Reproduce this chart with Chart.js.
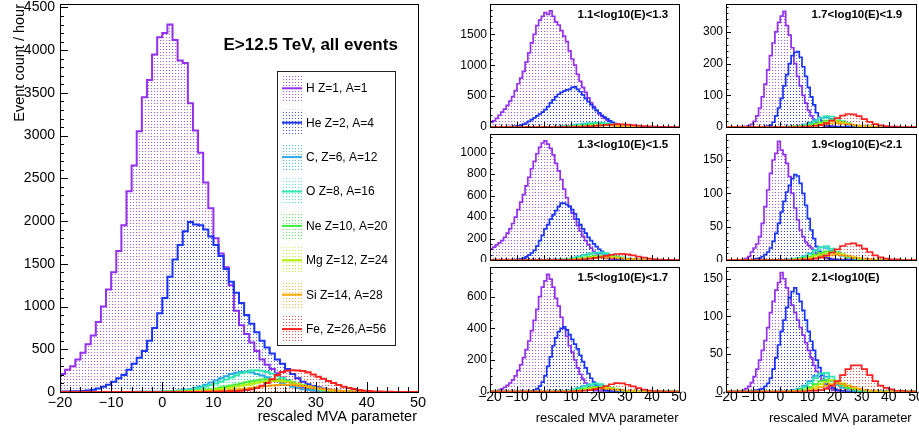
<!DOCTYPE html>
<html>
<head>
<meta charset="utf-8">
<script src="https://cdn.jsdelivr.net/npm/chart.js@4.4.1/dist/chart.umd.min.js"></script>
<style>
  body { margin: 0; background: #fff; }
  #page { position: relative; width: 919px; height: 432px; overflow: hidden; }
  #page canvas { position: absolute; }
</style>
</head>
<body>
<div id="page">
  <canvas id="cMain" width="450" height="432" style="left:0;top:0"></canvas>
  <canvas id="c1" width="240" height="131" style="left:450px;top:0"></canvas>
  <canvas id="c2" width="229" height="131" style="left:690px;top:0"></canvas>
  <canvas id="c3" width="240" height="131" style="left:450px;top:131px"></canvas>
  <canvas id="c4" width="229" height="131" style="left:690px;top:131px"></canvas>
  <canvas id="c5" width="240" height="170" style="left:450px;top:262px"></canvas>
  <canvas id="c6" width="229" height="170" style="left:690px;top:262px"></canvas>
</div>
<script>
// species in drawing order (first = bottom)
const speciesNames = ['H Z=1, A=1', 'He Z=2, A=4', 'C, Z=6, A=12', 'O Z=8, A=16',
  'Ne Z=10, A=20', 'Mg Z=12, Z=24', 'Si Z=14, A=28', 'Fe, Z=26,A=56'];
const speciesColors = ['#9430f0', '#1a35f5', '#2aa8e8', '#2ee8b0', '#3aee3a', '#b0ee00', '#ffaa00', '#ff2020'];

// binning: fine = 1 unit from -20, coarse = 2 units from -20
const FINE_START = -20, FINE_WIDTH = 1;
const COARSE_START = -20, COARSE_WIDTH = 2;

// tick labels
const xTicks = [-20, -10, 0, 10, 20, 30, 40, 50];
const allTicks = [0, 500, 1000, 1500, 2000, 2500, 3000, 3500, 4000, 4500];
const b1Ticks = [0, 500, 1000, 1500];
const b2Ticks = [0, 200, 400, 600, 800, 1000];
const b3Ticks = [0, 200, 400, 600];
const b4Ticks = [0, 100, 200, 300];
const b5Ticks = [0, 50, 100, 150];
const b6Ticks = [0, 50, 100, 150];

// ---- E>12.5 TeV, all events (fine bins, -20..50)
const allH = [210,260,300,380,460,560,660,820,1000,1200, 1400,1650,1950,2350,2650,3050,3450,3650,3950,4150,
  4200,4300,4120,3880,3850,3380,3060,2800,2450,2150, 1800,1620,1460,1250,950,780,680,580,480,380,
  320,270,220,170,130,100,75,55,40,30, 22,15,10,7,5,3,2,1,1,1, 0,0,0,0,0,0,0,0,0,0];
const allHe = [5,5,8,10,12,18,25,40,60,85, 120,160,200,260,330,400,480,600,750,920,
  1100,1350,1550,1720,1880,1990,1960,1950,1900,1820, 1720,1590,1440,1290,1160,1040,900,800,700,600,
  520,450,380,330,270,210,160,120,90,70, 55,40,30,22,16,12,9,6,4,3, 2,1,1,1,0,0,0,0,0,0];
const allC = [0,0,0,0,0,0,0,0,0,0, 0,1,1,1,2,2,3,3,4,4,
  5,8,12,18,25,35,50,65,85,110, 135,160,185,210,225,235,237,228,212,192,
  172,150,127,103,82,62,46,33,23,16, 11,8,5,3,2,1,1,0,0,0, 0,0,0,0,0,0,0,0,0,0];
const allO = [0,0,0,0,0,0,0,0,0,0, 0,0,1,1,1,2,2,3,3,4,
  5,7,10,14,20,28,38,50,65,82, 100,122,145,170,195,220,240,252,255,250,
  235,215,190,165,140,115,92,72,55,40, 28,19,13,8,5,3,2,1,1,0, 0,0,0,0,0,0,0,0,0,0];
const allNe = [0,0,0,0,0,0,0,0,0,0, 0,0,0,0,0,0,0,1,1,1,
  2,3,4,6,8,11,15,20,26,33, 42,52,63,75,88,100,113,125,136,145,
  150,150,145,136,124,110,95,80,65,51, 39,29,21,15,10,7,4,3,2,1, 1,0,0,0,0,0,0,0,0,0];
const allMg = [0,0,0,0,0,0,0,0,0,0, 0,0,0,0,0,0,0,0,0,0,
  1,2,3,4,6,8,11,14,18,23, 29,36,44,53,63,74,86,97,108,118,
  126,130,130,126,118,107,94,80,66,53, 41,31,23,16,11,7,5,3,2,1, 1,0,0,0,0,0,0,0,0,0];
const allSi = [0,0,0,0,0,0,0,0,0,0, 0,0,0,0,0,0,0,0,0,0,
  0,1,1,2,2,3,4,5,7,9, 12,15,19,24,29,35,42,49,56,63,
  70,76,81,84,84,81,76,69,60,51, 42,34,26,20,15,11,7,5,3,2, 1,1,0,0,0,0,0,0,0,0];
const allFe = [0,0,0,0,0,0,0,0,0,0, 0,0,0,0,0,0,0,0,0,0,
  0,0,0,0,0,1,1,1,2,3, 4,5,7,9,12,16,22,32,48,72,
  105,150,200,235,250,255,253,245,230,205, 178,155,130,105,82,62,46,35,24,16, 11,7,5,3,2,1,1,0,0,0];

// ---- 1.1<log10(E)<1.3
const b1H = [80,100,140,190,240,290,350,420,490,590, 700,790,900,1050,1200,1360,1500,1640,1730,1790,
  1850,1820,1880,1790,1700,1650,1560,1470,1380,1230, 1100,1000,850,740,640,560,470,390,330,270,
  210,170,140,110,85,65,50,40,32,25, 20,15,12,9,7,5,4,3,2,2, 1,1,1,1,0,0,0,0,0,0];
const b1He = [0,0,0,1,1,2,3,5,8,13, 20,30,45,65,90,120,150,180,210,240,
  280,330,390,440,490,530,560,580,600,610, 640,650,610,570,520,460,410,360,310,270,
  230,190,160,130,100,75,55,40,28,18, 10,6,4,2,1,1,0,0,0,0, 0,0,0,0,0,0,0,0,0,0];
const b1C  = [0,0,0,0,0,0,0,0, 0,1,2,4,8,13,20,30,42,53,60,59,52,41,30,20,13,8,4,2,1,0,0,0,0, 0,0];
const b1O  = [0,0,0,0,0,0,0,0, 0,0,1,3,6,10,16,24,35,48,60,68,70,63,51,38,26,16,9,5,2,1,0,0,0, 0,0];
const b1Ne = [0,0,0,0,0,0,0,0, 0,0,0,1,2,4,7,11,17,24,31,37,40,38,32,24,17,11,6,3,2,1,0,0,0, 0,0];
const b1Mg = [0,0,0,0,0,0,0,0, 0,0,0,1,1,3,5,8,13,18,24,30,34,35,31,25,18,12,7,4,2,1,0,0,0, 0,0];
const b1Si = [0,0,0,0,0,0,0,0, 0,0,0,0,1,2,3,5,8,12,16,20,23,25,23,19,14,9,6,3,2,1,0,0,0, 0,0];
const b1Fe = [0,0,0,0,0,0,0,0, 0,0,0,0,0,1,1,2,4,7,11,17,25,33,40,45,44,39,31,23,15,9,5,3,1, 1,0];

// ---- 1.3<log10(E)<1.5
const b2H = [105,120,140,160,180,210,250,290,340,400, 470,540,610,690,770,850,920,990,1050,1090,
  1110,1080,1040,980,900,830,750,660,580,500, 440,380,320,270,220,180,140,110,80,60,
  40,28,20,14,10,7,5,3,2,1, 1,0,0,0,0,0,0,0,0,0, 0,0,0,0,0,0,0,0,0,0];
const b2He = [0,0,0,0,0,0,0,1,2,4, 6,10,18,30,45,65,90,130,180,230,
  290,330,380,420,460,500,530,530,515,500, 470,430,380,330,290,250,210,180,150,125,
  100,80,60,45,33,23,15,10,7,5, 3,2,1,1,0,0,0,0,0,0, 0,0,0,0,0,0,0,0,0,0];
const b2C  = [0,0,0,0,0,0,0,0, 0,0,1,2,4,8,14,23,35,48,60,66,62,52,40,28,18,11,6,3,2,1,0,0,0, 0,0];
const b2O  = [0,0,0,0,0,0,0,0, 0,0,1,2,3,6,11,19,30,44,58,70,72,64,50,36,24,15,8,4,2,1,0,0,0, 0,0];
const b2Ne = [0,0,0,0,0,0,0,0, 0,0,0,1,2,3,6,10,16,23,31,38,41,39,33,25,17,11,6,3,2,1,0,0,0, 0,0];
const b2Mg = [0,0,0,0,0,0,0,0, 0,0,0,0,1,2,4,7,11,17,24,30,34,34,30,24,17,11,7,4,2,1,0,0,0, 0,0];
const b2Si = [0,0,0,0,0,0,0,0, 0,0,0,0,1,1,2,4,7,11,15,19,22,23,21,17,13,9,6,3,2,1,0,0,0, 0,0];
const b2Fe = [0,0,0,0,0,0,0,0, 0,0,0,0,0,1,1,2,4,7,12,19,28,39,49,56,57,52,43,32,22,14,8,4,2, 1,0];

// ---- 1.5<log10(E)<1.7
const b3H = [0,2,5,10,18,28,40,55,75,100, 135,170,215,265,320,385,450,520,600,660,
  700,740,710,660,590,540,470,400,350,290, 250,200,150,110,80,55,35,20,12,7,
  4,2,1,1,0,0,0,0,0,0, 0,0,0,0,0,0,0,0,0,0, 0,0,0,0,0,0,0,0,0,0];
const b3He = [0,0,0,0,0,0,0,0,0,0, 0,0,0,1,2,5,10,20,35,60,
  100,160,220,290,340,380,400,410,390,360, 330,300,270,230,190,150,115,85,60,40,
  25,15,9,5,3,2,1,0,0,0, 0,0,0,0,0,0,0,0,0,0, 0,0,0,0,0,0,0,0,0,0];
const b3C  = [0,0,0,0,0,0,0,0, 0,0,0,1,2,4,8,15,25,37,45,44,36,25,16,9,5,2,1,0,0,0,0,0,0, 0,0];
const b3O  = [0,0,0,0,0,0,0,0, 0,0,0,1,2,3,6,12,21,33,45,52,48,37,25,15,9,5,2,1,0,0,0,0,0, 0,0];
const b3Ne = [0,0,0,0,0,0,0,0, 0,0,0,0,1,2,4,7,12,19,26,31,31,26,19,12,7,4,2,1,0,0,0,0,0, 0,0];
const b3Mg = [0,0,0,0,0,0,0,0, 0,0,0,0,1,1,3,5,9,14,19,24,27,26,21,15,10,6,3,2,1,0,0,0,0, 0,0];
const b3Si = [0,0,0,0,0,0,0,0, 0,0,0,0,0,1,1,3,5,8,12,16,19,19,16,12,8,5,3,1,1,0,0,0,0, 0,0];
const b3Fe = [0,0,0,0,0,0,0,0, 0,0,0,0,0,0,1,2,3,6,10,16,25,36,47,54,52,44,33,22,13,7,4,2,1, 1,0];

// ---- 1.7<log10(E)<1.9
const b4H = [0,0,0,0,0,1,1,2,4,8, 18,35,60,95,135,180,225,265,300,330,
  350,365,320,290,250,200,160,130,100,75, 52,35,22,14,8,5,3,2,1,1,
  0,0,0,0,0,0,0,0,0,0, 0,0,0,0,0,0,0,0,0,0, 0,0,0,0,0,0,0,0,0,0];
const b4He = [0,0,0,0,0,0,0,0,0,0, 0,0,0,0,1,3,6,15,35,60,
  90,130,165,200,225,235,238,220,190,160, 125,95,70,45,30,18,10,6,3,2,
  1,1,0,0,0,0,0,0,0,0, 0,0,0,0,0,0,0,0,0,0, 0,0,0,0,0,0,0,0,0,0];
const b4C  = [0,0,0,0,0,0,0,0, 0,0,0,1,2,4,8,14,22,29,30,26,19,12,7,4,2,1,0,0,0,0,0,0,0, 0,0];
const b4O  = [0,0,0,0,0,0,0,0, 0,0,0,1,2,3,6,11,18,27,34,33,27,19,12,7,4,2,1,0,0,0,0,0,0, 0,0];
const b4Ne = [0,0,0,0,0,0,0,0, 0,0,0,0,1,2,3,6,10,15,20,22,20,15,10,6,3,2,1,0,0,0,0,0,0, 0,0];
const b4Mg = [0,0,0,0,0,0,0,0, 0,0,0,0,1,1,2,4,7,11,15,18,18,15,11,7,4,2,1,0,0,0,0,0,0, 0,0];
const b4Si = [0,0,0,0,0,0,0,0, 0,0,0,0,0,1,1,2,4,6,9,11,12,11,9,6,4,2,1,1,0,0,0,0,0, 0,0];
const b4Fe = [0,0,0,0,0,0,0,0, 0,0,0,0,0,0,1,2,4,7,12,20,28,36,41,40,34,25,16,9,5,3,1,1,0, 0,0];

// ---- 1.9<log10(E)<2.1
const b5H = [0,0,0,0,0,0,1,2,5,12, 18,24,35,55,80,105,130,150,160,178,
  165,158,145,125,100,78,60,45,35,27, 22,18,15,10,7,5,3,2,1,1,
  0,0,0,0,0,0,0,0,0,0, 0,0,0,0,0,0,0,0,0,0, 0,0,0,0,0,0,0,0,0,0];
const b5He = [0,0,0,0,0,0,0,0,0,0, 1,2,3,5,8,12,18,28,40,55,
  72,88,102,112,122,128,126,115,100,82, 62,45,32,20,13,8,5,3,2,1,
  1,0,0,0,0,0,0,0,0,0, 0,0,0,0,0,0,0,0,0,0, 0,0,0,0,0,0,0,0,0,0];
const b5C  = [0,0,0,0,0,0,0,0, 0,0,0,1,2,3,6,10,15,19,18,14,10,6,3,2,1,0,0,0,0,0,0,0,0, 0,0];
const b5O  = [0,0,0,0,0,0,0,0, 0,0,0,1,1,3,5,9,14,19,21,17,12,8,5,3,1,1,0,0,0,0,0,0,0, 0,0];
const b5Ne = [0,0,0,0,0,0,0,0, 0,0,0,0,1,2,3,5,8,11,13,13,11,8,5,3,2,1,0,0,0,0,0,0,0, 0,0];
const b5Mg = [0,0,0,0,0,0,0,0, 0,0,0,0,1,1,2,4,6,8,10,11,10,8,6,4,2,1,1,0,0,0,0,0,0, 0,0];
const b5Si = [0,0,0,0,0,0,0,0, 0,0,0,0,0,1,1,2,3,5,6,7,8,7,6,4,3,2,1,0,0,0,0,0,0, 0,0];
const b5Fe = [0,0,0,0,0,0,0,0, 0,0,0,0,0,0,1,1,2,4,7,11,16,21,24,25,22,17,12,7,4,2,1,1,0, 0,0];

// ---- 2.1<log10(E)
const b6H = [0,0,0,0,0,1,2,4,7,12, 20,30,42,55,68,85,105,120,135,145,
  158,150,138,125,115,105,95,85,75,65, 55,45,35,27,20,15,10,6,4,2,
  1,1,0,0,0,0,0,0,0,0, 0,0,0,0,0,0,0,0,0,0, 0,0,0,0,0,0,0,0,0,0];
const b6He = [0,0,0,0,0,0,0,0,0,1, 1,2,3,4,7,11,18,30,45,62,
  80,95,112,125,133,138,130,120,108,95, 80,67,55,42,32,22,15,10,7,5,
  3,2,1,1,0,0,0,0,0,0, 0,0,0,0,0,0,0,0,0,0, 0,0,0,0,0,0,0,0,0,0];
const b6C  = [0,0,0,0,0,0,0,0, 0,0,0,1,2,4,8,14,21,24,20,14,9,5,3,1,1,0,0,0,0,0,0,0,0, 0,0];
const b6O  = [0,0,0,0,0,0,0,0, 0,0,0,1,1,3,6,11,18,24,25,20,14,9,5,3,1,1,0,0,0,0,0,0,0, 0,0];
const b6Ne = [0,0,0,0,0,0,0,0, 0,0,0,0,1,2,3,6,10,14,16,15,12,8,5,3,2,1,0,0,0,0,0,0,0, 0,0];
const b6Mg = [0,0,0,0,0,0,0,0, 0,0,0,0,1,1,2,4,7,10,13,15,14,11,8,5,3,2,1,0,0,0,0,0,0, 0,0];
const b6Si = [0,0,0,0,0,0,0,0, 0,0,0,0,0,1,1,2,4,6,8,10,11,10,8,6,4,2,1,1,0,0,0,0,0, 0,0];
const b6Fe = [0,0,0,0,0,0,0,0, 0,0,0,0,0,0,0,1,1,2,4,8,14,22,30,35,35,30,22,14,8,5,3,1,1, 0,0];

const FONT = "'Liberation Sans', Arial, Helvetica, sans-serif";
Chart.defaults.font.family = FONT;
Chart.defaults.color = '#000';

// histogram outline: two points per bin
function outline(vals, start, width) {
  const pts = [];
  vals.forEach((v, i) => {
    pts.push({ x: start + i * width, y: v });
    pts.push({ x: start + (i + 1) * width, y: v });
  });
  return pts;
}

// ROOT-like dotted fill
function dots(color) {
  const c = document.createElement('canvas');
  c.width = 3; c.height = 3;
  const g = c.getContext('2d');
  g.globalAlpha = 0.8;
  g.fillStyle = color;
  g.fillRect(1, 1, 1, 1);
  return g.createPattern(c, 'repeat');
}
const patterns = speciesColors.map(dots);

const minus = v => (v < 0 ? '\u2212' + (-v) : String(v));

function drawLegend(ctx) {
  ctx.fillStyle = '#fff';
  ctx.fillRect(277, 71, 118, 275);
  ctx.strokeStyle = '#222';
  ctx.lineWidth = 1;
  ctx.strokeRect(277.5, 71.5, 118, 274);
  ctx.font = '12px ' + FONT;
  ctx.textAlign = 'left';
  ctx.textBaseline = 'middle';
  speciesNames.forEach((name, i) => {
    const cy = 88.3 + i * 34.4;
    ctx.fillStyle = patterns[i];
    ctx.fillRect(282, cy - 13, 20, 26);
    ctx.strokeStyle = speciesColors[i];
    ctx.lineWidth = 2;
    ctx.beginPath();
    ctx.moveTo(282, cy);
    ctx.lineTo(302, cy);
    ctx.stroke();
    ctx.fillStyle = '#000';
    ctx.fillText(name, 306, cy + 0.5);
  });
}

function decor(cfg) {
  return {
    id: 'rootDecor',
    afterDraw(chart) {
      const { ctx, chartArea: a, scales: { x, y } } = chart;
      const yStep = cfg.yTicks[1] - cfg.yTicks[0];
      ctx.save();
      ctx.strokeStyle = '#000';
      ctx.lineWidth = 1;
      ctx.beginPath();
      for (let v = -20; v <= 50; v += 2) {
        const px = Math.round(x.getPixelForValue(v)) + 0.5;
        const len = v % 10 === 0 ? cfg.xTick : cfg.xTick / 2;
        ctx.moveTo(px, a.bottom);
        ctx.lineTo(px, a.bottom - len);
      }
      for (let v = 0; v <= y.max; v += cfg.yMinor) {
        const py = Math.round(y.getPixelForValue(v)) + 0.5;
        const len = v % yStep === 0 ? cfg.yTick : cfg.yTick / 2;
        ctx.moveTo(a.left, py);
        ctx.lineTo(a.left + len, py);
      }
      ctx.stroke();
      ctx.strokeRect(Math.round(a.left) + 0.5, Math.round(a.top) + 0.5,
        Math.round(a.right - a.left), Math.round(a.bottom - a.top));

      if (cfg.legend) drawLegend(ctx);

      ctx.fillStyle = '#000';
      cfg.texts.forEach(t => {
        ctx.save();
        ctx.font = t.font;
        ctx.textAlign = t.align;
        ctx.textBaseline = t.base;
        ctx.translate(t.x, t.y);
        if (t.rot) ctx.rotate(t.rot);
        ctx.fillText(t.text, 0, 0);
        ctx.restore();
      });
      ctx.restore();
    }
  };
}

function histChart(id, cfg) {
  const cv = document.getElementById(id);
  const W = cv.width, H = cv.height, a = cfg.area;
  const datasets = cfg.series.map((s, i) => ({
    label: speciesNames[i],
    data: outline(s.vals, s.start, s.width),
    borderColor: speciesColors[i],
    backgroundColor: patterns[i],
    borderWidth: cfg.lineWidth,
    fill: 'origin',
    pointRadius: 0,
    tension: 0,
    order: cfg.series.length - i
  }));
  return new Chart(cv, {
    type: 'line',
    data: { datasets },
    options: {
      responsive: false,
      animation: false,
      devicePixelRatio: 1,
      events: [],
      layout: { padding: { left: 0, top: a.top, right: W - a.right, bottom: 0 } },
      plugins: { legend: { display: false }, tooltip: { enabled: false } },
      scales: {
        x: {
          type: 'linear', min: -20, max: 50,
          grid: { display: false, drawTicks: false },
          border: { display: false },
          ticks: {
            display: cfg.xLabels, autoSkip: false, maxRotation: 0,
            padding: cfg.xPad, font: { size: cfg.xTickSize }, color: '#000',
            callback: v => minus(v)
          },
          afterBuildTicks: s => { s.ticks = xTicks.map(v => ({ value: v })); },
          afterFit: s => { s.height = H - a.bottom; s.paddingLeft = 0; s.paddingRight = 0; }
        },
        y: {
          type: 'linear', min: 0, max: cfg.yMax,
          grid: { display: false, drawTicks: false },
          border: { display: false },
          ticks: {
            autoSkip: false, padding: cfg.yPad, font: { size: cfg.yTickSize }, color: '#000',
            callback: v => String(v)
          },
          afterBuildTicks: s => { s.ticks = cfg.yTicks.map(v => ({ value: v })); },
          afterFit: s => { s.width = a.left; s.paddingTop = 0; s.paddingBottom = 0; }
        }
      }
    },
    plugins: [decor(cfg)]
  });
}

const fine = vals => ({ vals, start: FINE_START, width: FINE_WIDTH });
const coarse = vals => ({ vals, start: COARSE_START, width: COARSE_WIDTH });

// main panel
histChart('cMain', {
  area: { left: 60, right: 418, top: 4, bottom: 392 },
  yMax: 4540, yTicks: allTicks, yMinor: 100, xTickSize: 14.5, yTickSize: 14, xPad: 2, yPad: 5,
  xTick: 10, yTick: 8, lineWidth: 2, xLabels: true, legend: true,
  series: [allH, allHe, allC, allO, allNe, allMg, allSi, allFe].map(fine),
  texts: [
    { text: 'E>12.5 TeV, all events', x: 223.5, y: 45, font: 'bold 17px ' + FONT, align: 'left', base: 'middle' },
    { text: 'rescaled MVA parameter', x: 417, y: 421, font: '14.5px ' + FONT, align: 'right', base: 'alphabetic' },
    { text: 'Event count / hour', x: 23.5, y: 4, font: '14.5px ' + FONT, align: 'right', base: 'alphabetic', rot: -Math.PI / 2 }
  ]
});

const small = [
  { id: 'c1', left: true,  row: 0, label: '1.1<log10(E)<1.3', yMax: 1990, yTicks: b1Ticks, yMinor: 100,
    data: [fine(b1H), fine(b1He), coarse(b1C), coarse(b1O), coarse(b1Ne), coarse(b1Mg), coarse(b1Si), coarse(b1Fe)] },
  { id: 'c2', left: false, row: 0, label: '1.7<log10(E)<1.9', yMax: 388, yTicks: b4Ticks, yMinor: 20,
    data: [fine(b4H), fine(b4He), coarse(b4C), coarse(b4O), coarse(b4Ne), coarse(b4Mg), coarse(b4Si), coarse(b4Fe)] },
  { id: 'c3', left: true,  row: 1, label: '1.3<log10(E)<1.5', yMax: 1174, yTicks: b2Ticks, yMinor: 50,
    data: [fine(b2H), fine(b2He), coarse(b2C), coarse(b2O), coarse(b2Ne), coarse(b2Mg), coarse(b2Si), coarse(b2Fe)] },
  { id: 'c4', left: false, row: 1, label: '1.9<log10(E)<2.1', yMax: 189, yTicks: b5Ticks, yMinor: 10,
    data: [fine(b5H), fine(b5He), coarse(b5C), coarse(b5O), coarse(b5Ne), coarse(b5Mg), coarse(b5Si), coarse(b5Fe)] },
  { id: 'c5', left: true,  row: 2, label: '1.5<log10(E)<1.7', yMax: 789, yTicks: b3Ticks, yMinor: 50,
    data: [fine(b3H), fine(b3He), coarse(b3C), coarse(b3O), coarse(b3Ne), coarse(b3Mg), coarse(b3Si), coarse(b3Fe)] },
  { id: 'c6', left: false, row: 2, label: '2.1<log10(E)', yMax: 166, yTicks: b6Ticks, yMinor: 10,
    data: [fine(b6H), fine(b6He), coarse(b6C), coarse(b6O), coarse(b6Ne), coarse(b6Mg), coarse(b6Si), coarse(b6Fe)] }
];

// frame top/bottom inside each row canvas
const rowFrames = [{ top: 4, bottom: 127 }, { top: 3, bottom: 129 }, { top: 4.7, bottom: 129.7 }];

small.forEach(p => {
  const f = rowFrames[p.row];
  const isBottom = p.row === 2;
  const area = p.left ? { left: 40, right: 229, top: f.top, bottom: f.bottom }
                      : { left: 36, right: 226, top: f.top, bottom: f.bottom };
  const texts = [
    { text: p.label, x: p.left ? 127.5 : 121.5, y: f.top + 11, font: 'bold 11.5px ' + FONT, align: 'left', base: 'middle' }
  ];
  if (isBottom) {
    texts.push({ text: 'rescaled MVA parameter', x: p.left ? 228.5 : 221.7, y: 160.3, font: '13px ' + FONT, align: 'right', base: 'alphabetic' });
  }
  histChart(p.id, {
    area, yMax: p.yMax, yTicks: p.yTicks, yMinor: p.yMinor, xTickSize: 14, yTickSize: 12, xPad: -3, yPad: 3,
    xTick: 5, yTick: 5, lineWidth: 1.7, xLabels: isBottom, legend: false,
    series: p.data, texts
  });
});
</script>
</body>
</html>
